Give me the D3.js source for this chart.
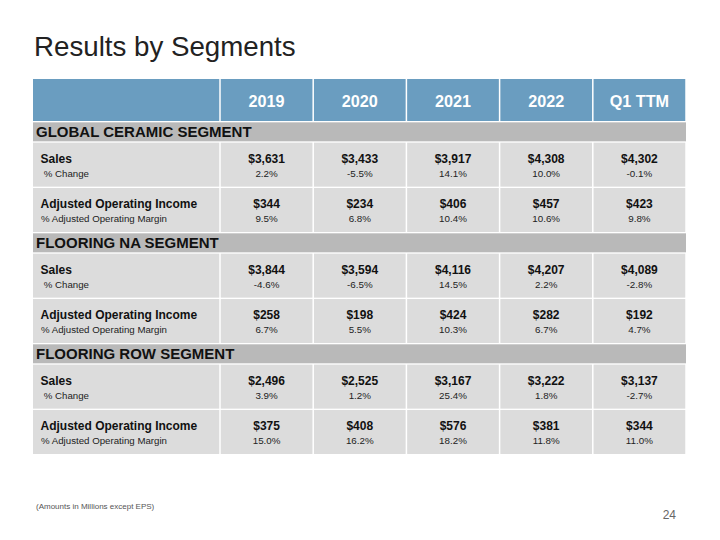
<!DOCTYPE html>
<html><head><meta charset="utf-8">
<script src="https://cdn.jsdelivr.net/npm/d3@7/dist/d3.min.js"></script>
<style>
html,body{margin:0;padding:0;background:#fff;}
svg{display:block;font-family:"Liberation Sans",Arial,sans-serif;}
</style></head>
<body><svg id="c" width="720" height="540"></svg>
<script>
const title = "Results by Segments";
const footnote = "(Amounts in Millions except EPS)";
const pageNumber = "24";
const years = ["2019", "2020", "2021", "2022", "Q1 TTM"];
const segments = ["GLOBAL CERAMIC SEGMENT", "FLOORING NA SEGMENT", "FLOORING ROW SEGMENT"];
const mainLabels = ["Sales", "Adjusted Operating Income"];
const subLabels = [" % Change", "% Adjusted Operating Margin"];

const gcSales = [3631, 3433, 3917, 4308, 4302];
const gcSalesChg = [2.2, -5.5, 14.1, 10.0, -0.1];
const gcAOI = [344, 234, 406, 457, 423];
const gcMargin = [9.5, 6.8, 10.4, 10.6, 9.8];

const naSales = [3844, 3594, 4116, 4207, 4089];
const naSalesChg = [-4.6, -6.5, 14.5, 2.2, -2.8];
const naAOI = [258, 198, 424, 282, 192];
const naMargin = [6.7, 5.5, 10.3, 6.7, 4.7];

const rowSales = [2496, 2525, 3167, 3222, 3137];
const rowSalesChg = [3.9, 1.2, 25.4, 1.8, -2.7];
const rowAOI = [375, 408, 576, 381, 344];
const rowMargin = [15.0, 16.2, 18.2, 11.8, 11.0];

const segmentData = [
  [[gcSales, gcSalesChg], [gcAOI, gcMargin]],
  [[naSales, naSalesChg], [naAOI, naMargin]],
  [[rowSales, rowSalesChg], [rowAOI, rowMargin]]
];

const loc = d3.formatLocale({decimal: ".", thousands: ",", grouping: [3], currency: ["$", ""], minus: "-"});
const fMoney = loc.format("$,.0f");
const fPct = v => loc.format(".1f")(v) + "%";

const svg = d3.select("#c");
const tLeft = 33, labelRight = 220, tRight = 686, tTop = 79;
const headerH = 42, segH = 19, rowH = 44, gap = 1.33;

const x = d3.scaleBand().domain(years).range([labelRight, tRight]).paddingInner(0).paddingOuter(0);
const sep = 0.75;

const items = [{type: "header", h: headerH}];
segments.forEach((s, si) => {
  items.push({type: "seg", h: segH, name: s});
  segmentData[si].forEach((r, ri) => items.push({type: "row", h: rowH, main: mainLabels[ri], sub: subLabels[ri], vals: r[0], pcts: r[1]}));
});
let yy = tTop;
items.forEach(it => { it.y = yy; yy += it.h + gap; });

const blue = "#6a9dc0", rowGray = "#dcdcdc", segGray = "#b9b9b9";

svg.append("text").attr("x", 34).attr("y", 56).attr("font-size", 27.7).attr("fill", "#222").text(title);

items.forEach(it => {
  const g = svg.append("g");
  if (it.type === "header") {
    g.append("rect").attr("x", tLeft).attr("y", it.y).attr("width", labelRight - tLeft - sep).attr("height", it.h).attr("fill", blue);
    years.forEach(yr => {
      g.append("rect").attr("x", x(yr) + sep).attr("y", it.y).attr("width", x.bandwidth() - 2 * sep).attr("height", it.h).attr("fill", blue);
      g.append("text").attr("x", x(yr) + x.bandwidth() / 2).attr("y", it.y + 27.5).attr("text-anchor", "middle")
        .attr("font-size", 16.2).attr("font-weight", "bold").attr("fill", "#fff").text(yr);
    });
  } else if (it.type === "seg") {
    g.append("rect").attr("x", tLeft).attr("y", it.y).attr("width", tRight - tLeft).attr("height", it.h).attr("fill", segGray);
    g.append("text").attr("x", 36).attr("y", it.y + 15).attr("font-size", 15).attr("font-weight", "bold").attr("fill", "#111").text(it.name);
  } else {
    g.append("rect").attr("x", tLeft).attr("y", it.y).attr("width", labelRight - tLeft - sep).attr("height", it.h).attr("fill", rowGray);
    g.append("text").attr("x", 40.5).attr("y", it.y + 20.4).attr("font-size", 12).attr("font-weight", "bold").attr("fill", "#111").text(it.main);
    g.append("text").attr("x", 41).attr("y", it.y + 34.4).attr("font-size", 9.7).attr("fill", "#222").style("white-space", "pre").text(it.sub);
    years.forEach((yr, j) => {
      g.append("rect").attr("x", x(yr) + sep).attr("y", it.y).attr("width", x.bandwidth() - 2 * sep).attr("height", it.h).attr("fill", rowGray);
      g.append("text").attr("x", x(yr) + x.bandwidth() / 2).attr("y", it.y + 20.4).attr("text-anchor", "middle")
        .attr("font-size", 12).attr("font-weight", "bold").attr("fill", "#111").text(fMoney(it.vals[j]));
      g.append("text").attr("x", x(yr) + x.bandwidth() / 2).attr("y", it.y + 34.4).attr("text-anchor", "middle")
        .attr("font-size", 9.8).attr("fill", "#222").text(fPct(it.pcts[j]));
    });
  }
});

svg.append("text").attr("x", 36).attr("y", 509).attr("font-size", 8).attr("fill", "#555").text(footnote);
svg.append("text").attr("x", 676).attr("y", 519).attr("text-anchor", "end").attr("font-size", 12).attr("fill", "#666").text(pageNumber);
</script></body></html>
